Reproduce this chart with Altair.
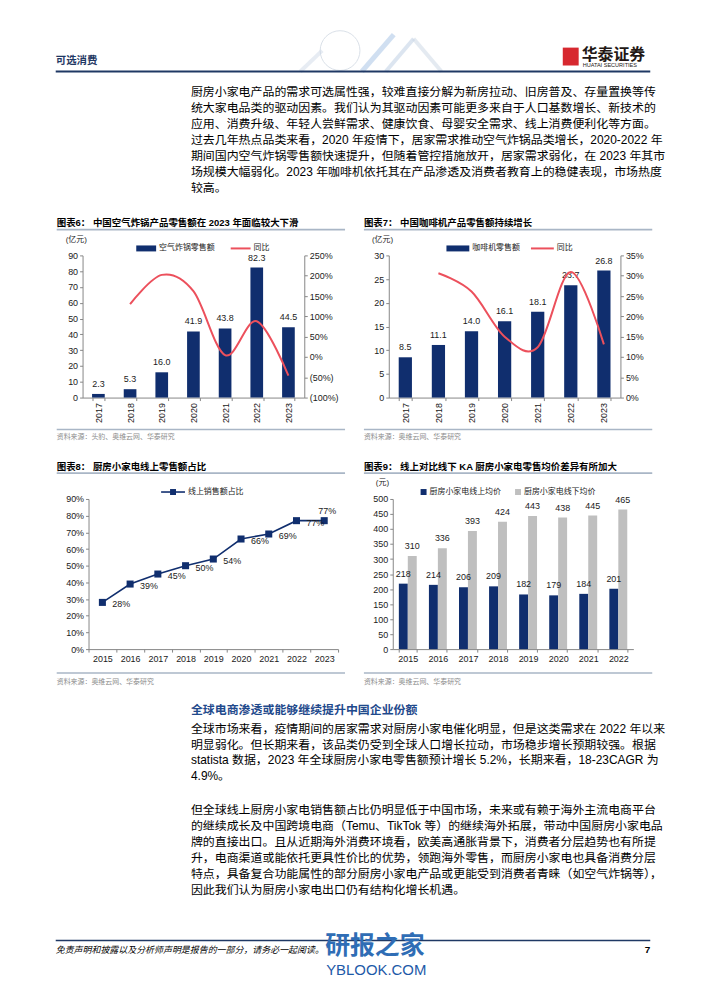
import altair as alt
import pandas as pd

# ---------------- data ----------------
years_af = ["2017", "2018", "2019", "2020", "2021", "2022", "2023"]
airfryer_sales = [2.3, 5.3, 16.0, 41.9, 43.8, 82.3, 44.5]
yoy_years = ["2018", "2019", "2020", "2021", "2022", "2023"]
airfryer_yoy = [130, 202, 162, 4.5, 88, -46]
coffee_sales = [8.5, 11.1, 14.0, 16.1, 18.1, 23.7, 26.8]
coffee_yoy = [30.6, 26.1, 15.0, 12.4, 30.9, 13.1]
years_share = ["2015", "2016", "2017", "2018", "2019", "2020", "2021", "2022", "2023"]
online_share = [28, 39, 45, 50, 54, 66, 69, 77, 77]
years_price = ["2015", "2016", "2017", "2018", "2019", "2020", "2021", "2022"]
online_price = [218, 214, 206, 209, 182, 179, 184, 201]
offline_price = [310, 336, 393, 424, 443, 438, 445, 465]

para1 = [
    "厨房小家电产品的需求可选属性强，较难直接分解为新房拉动、旧房普及、存量置换等传",
    "统大家电品类的驱动因素。我们认为其驱动因素可能更多来自于人口基数增长、新技术的",
    "应用、消费升级、年轻人尝鲜需求、健康饮食、母婴安全需求、线上消费便利化等方面。",
    "过去几年热点品类来看，2020 年疫情下，居家需求推动空气炸锅品类增长，2020-2022 年",
    "期间国内空气炸锅零售额快速提升，但随着管控措施放开，居家需求弱化，在 2023 年其市",
    "场规模大幅弱化。2023 年咖啡机依托其在产品渗透及消费者教育上的稳健表现，市场热度",
    "较高。",
]
heading2 = "全球电商渗透或能够继续提升中国企业份额"
para2a = [
    "全球市场来看，疫情期间的居家需求对厨房小家电催化明显，但是这类需求在 2022 年以来",
    "明显弱化。但长期来看，该品类仍受到全球人口增长拉动，市场稳步增长预期较强。根据",
    "statista 数据，2023 年全球厨房小家电零售额预计增长 5.2%，长期来看，18-23CAGR 为",
    "4.9%。",
]
para2b = [
    "但全球线上厨房小家电销售额占比仍明显低于中国市场，未来或有赖于海外主流电商平台",
    "的继续成长及中国跨境电商（Temu、TikTok 等）的继续海外拓展，带动中国厨房小家电品",
    "牌的直接出口。且从近期海外消费环境看，欧美高通胀背景下，消费者分层趋势也有所提",
    "升，电商渠道或能依托更具性价比的优势，领跑海外零售，而厨房小家电也具备消费分层",
    "特点，具备复合功能属性的部分厨房小家电产品或更能受到消费者青睐（如空气炸锅等），",
    "因此我们认为厨房小家电出口仍有结构化增长机遇。",
]

# ---------------- styles ----------------
FONT = "Liberation Sans, Noto Sans CJK SC, sans-serif"
LATIN = "Liberation Sans, Arial, sans-serif"
NAVY = "#102E6E"
RED = "#EC505C"
GREY = "#BFBFBF"
HEAD = "#1F3864"
AX = "#868686"
LBL = "#1a1a1a"
TITLE_LINE = "#A9B6C6"
SRC = "#8C8C8C"
W, H = 686, 975

ONE = pd.DataFrame({"k": [0]})


def txt(s, x, y, size=9, color="#000", weight="normal", align="left",
        font=FONT, style="normal", baseline="middle"):
    return alt.Chart(ONE).mark_text(
        text=s, fontSize=size, color=color, fontWeight=weight, align=align,
        baseline=baseline, font=font, fontStyle=style
    ).encode(x=alt.value(x), y=alt.value(y))


def hrule(x1, x2, y, color, w=1.0):
    return alt.Chart(ONE).mark_rule(color=color, strokeWidth=w).encode(
        x=alt.value(x1), x2=alt.value(x2), y=alt.value(y))


def seg(x1, y1, x2, y2, color, w=1.0, op=1.0):
    return alt.Chart(ONE).mark_rule(color=color, strokeWidth=w, opacity=op).encode(
        x=alt.value(x1), x2=alt.value(x2), y=alt.value(y1), y2=alt.value(y2))


def box(x1, x2, y1, y2, color):
    return alt.Chart(ONE).mark_rect(color=color).encode(
        x=alt.value(x1), x2=alt.value(x2), y=alt.value(y1), y2=alt.value(y2))


def lines_block(lines, x, y0, dy, size=12, color="#000", weight="normal"):
    df = pd.DataFrame({"t": lines, "i": list(range(len(lines)))})
    return alt.Chart(df).transform_calculate(
        py=f"{y0} + datum.i * {dy}"
    ).mark_text(align="left", baseline="middle", fontSize=size, font=FONT,
                color=color, fontWeight=weight).encode(
        x=alt.value(x), y=alt.Y("py:Q", scale=None, axis=None), text="t:N")


def yaxis(orient, offset, values, expr=None):
    kw = dict(orient=orient, offset=offset, values=values, title=None,
              labelFont=LATIN, labelFontSize=9, labelColor=LBL,
              domainColor=AX, tickColor=AX, tickSize=3, labelPadding=2,
              grid=False, labelOverlap=False)
    if expr:
        kw["labelExpr"] = expr
    return alt.Axis(**kw)


def xaxis(offset, angle):
    return alt.Axis(orient="bottom", offset=offset, labelAngle=angle,
                    tickBand="extent", title=None, labelFont=LATIN,
                    labelFontSize=9, labelColor=LBL, domainColor=AX,
                    tickColor=AX, tickSize=3, labelPadding=2, grid=False,
                    labelOverlap=False)


PCT = "datum.value + '%'"
PCT_PAREN = "datum.value < 0 ? '(' + (-datum.value) + '%)' : datum.value + '%'"

layers = []

# ---------------- header ----------------
layers += [
    alt.Chart(ONE).mark_point(shape="circle", size=1600, filled=False,
                              stroke="#CBD4DF", strokeWidth=1).encode(
        x=alt.value(330), y=alt.value(40)),
    seg(352, 61, 384, 24, "#A9C4E6", 5, 0.55),
    seg(376, 61, 404, 28, "#B9CBE2", 4, 0.5),
    seg(404, 28, 432, 61, "#C9D5E4", 4, 0.5),
    seg(290, 61, 312, 40, "#C9D5E4", 4, 0.45),
    txt("可选消费", 44, 50, size=10.5, color=HEAD, weight="bold"),
    box(554, 570, 37, 55, "#D7282F"),
    txt("华泰证券", 573, 44, size=16, color="#231815", weight="bold"),
    txt("HUATAI SECURITIES", 574, 55, size=5.6, color="#231815", font=LATIN),
    hrule(44, 642, 61, HEAD, 2),
    lines_block(para1, 180, 82, 16, 12),
]

# ---------------- chart 6 : air fryer ----------------
df6 = pd.DataFrame({"year": years_af, "v": airfryer_sales})
dfy6 = pd.DataFrame({"year": yoy_years, "v": airfryer_yoy})
xb6 = alt.Scale(type="band", domain=years_af, range=[71, 294], paddingInner=0.6, paddingOuter=0.3)
xp6 = alt.Scale(type="point", domain=years_af, range=[71, 294], padding=0.5)
y6 = alt.Scale(domain=[0, 90], range=[389, 246], nice=False, zero=True)
y6r = alt.Scale(domain=[-100, 250], range=[389, 246], nice=False, zero=False)

layers += [
    alt.Chart(df6).mark_bar(color=NAVY).encode(
        x=alt.X("year:N", scale=xb6, axis=xaxis(-(H - 389), 270)),
        y=alt.Y("v:Q", scale=y6, axis=yaxis("left", -71, list(range(0, 91, 10))))),
    alt.Chart(df6).mark_text(baseline="bottom", dy=-5, fontSize=9, font=LATIN, color=LBL).encode(
        x=alt.X("year:N", scale=xp6, axis=None),
        y=alt.Y("v:Q", scale=y6, axis=None),
        text=alt.Text("v:Q", format=".1f")),
    alt.Chart(dfy6).mark_line(color=RED, strokeWidth=2, interpolate="cardinal").encode(
        x=alt.X("year:N", scale=xp6, axis=None),
        y=alt.Y("v:Q", scale=y6r,
                axis=yaxis("right", -(W - 294), list(range(-100, 251, 50)), PCT_PAREN))),
    txt("图表6：  中国空气炸锅产品零售额在 2023 年面临较大下滑", 45, 213, size=9.5, weight="bold"),
    hrule(45, 335, 220, TITLE_LINE, 1.8),
    txt("(亿元)", 54, 231, size=8, color=LBL),
    box(125, 145, 236, 242, NAVY),
    txt("空气炸锅零售额", 148, 239, size=8, color=LBL),
    hrule(220, 240, 239, RED, 2),
    txt("同比", 243, 239, size=8, color=LBL),
    hrule(45, 335, 421, TITLE_LINE, 1.5),
    txt("资料来源：头豹、奥维云网、华泰研究", 45, 429, size=7, color=SRC),
]

# ---------------- chart 7 : coffee machine ----------------
df7 = pd.DataFrame({"year": years_af, "v": coffee_sales})
dfy7 = pd.DataFrame({"year": yoy_years, "v": coffee_yoy})
xb7 = alt.Scale(type="band", domain=years_af, range=[379, 612], paddingInner=0.6, paddingOuter=0.3)
xp7 = alt.Scale(type="point", domain=years_af, range=[379, 612], padding=0.5)
y7 = alt.Scale(domain=[0, 30], range=[389, 246], nice=False, zero=True)
y7r = alt.Scale(domain=[0, 35], range=[389, 246], nice=False, zero=False)

layers += [
    alt.Chart(df7).mark_bar(color=NAVY).encode(
        x=alt.X("year:N", scale=xb7, axis=xaxis(-(H - 389), 270)),
        y=alt.Y("v:Q", scale=y7, axis=yaxis("left", -379, list(range(0, 31, 5))))),
    alt.Chart(df7).mark_text(baseline="bottom", dy=-5, fontSize=9, font=LATIN, color=LBL).encode(
        x=alt.X("year:N", scale=xp7, axis=None),
        y=alt.Y("v:Q", scale=y7, axis=None),
        text=alt.Text("v:Q", format=".1f")),
    alt.Chart(dfy7).mark_line(color=RED, strokeWidth=2, interpolate="cardinal").encode(
        x=alt.X("year:N", scale=xp7, axis=None),
        y=alt.Y("v:Q", scale=y7r,
                axis=yaxis("right", -(W - 612), list(range(0, 36, 5)), PCT))),
    txt("图表7：  中国咖啡机产品零售额持续增长", 354, 213, size=9.5, weight="bold"),
    hrule(354, 644, 220, TITLE_LINE, 1.8),
    txt("(亿元)", 362, 231, size=8, color=LBL),
    box(437, 460, 236, 242, NAVY),
    txt("咖啡机零售额", 463, 239, size=8, color=LBL),
    hrule(522, 545, 239, RED, 2),
    txt("同比", 548, 239, size=8, color=LBL),
    hrule(354, 644, 421, TITLE_LINE, 1.5),
    txt("资料来源：奥维云网、华泰研究", 354, 429, size=7, color=SRC),
]

# ---------------- chart 8 : online share ----------------
df8 = pd.DataFrame({"year": years_share, "v": online_share})
xb8 = alt.Scale(type="band", domain=years_share, range=[77, 328], paddingInner=0, paddingOuter=0)
xp8 = alt.Scale(type="point", domain=years_share, range=[77, 328], padding=0.5)
y8 = alt.Scale(domain=[0, 90], range=[642, 491], nice=False, zero=True)

layers += [
    alt.Chart(df8).mark_bar(opacity=0).encode(
        x=alt.X("year:N", scale=xb8, axis=xaxis(-(H - 642), 0)),
        y=alt.Y("v:Q", scale=y8, axis=yaxis("left", -77, list(range(0, 91, 10)), PCT))),
    alt.Chart(df8).mark_line(color=NAVY, strokeWidth=1.6).encode(
        x=alt.X("year:N", scale=xp8, axis=None),
        y=alt.Y("v:Q", scale=y8, axis=None)),
    alt.Chart(df8).mark_point(shape="square", filled=True, size=50, opacity=1, color=NAVY).encode(
        x=alt.X("year:N", scale=xp8, axis=None),
        y=alt.Y("v:Q", scale=y8, axis=None)),
    alt.Chart(df8).transform_filter(alt.datum.year != "2023").transform_calculate(
        lab="datum.v + '%'").mark_text(align="left", baseline="middle", dx=10, dy=2,
                                       fontSize=9, font=LATIN, color=LBL).encode(
        x=alt.X("year:N", scale=xp8, axis=None),
        y=alt.Y("v:Q", scale=y8, axis=None), text="lab:N"),
    alt.Chart(df8).transform_filter(alt.datum.year == "2023").transform_calculate(
        lab="datum.v + '%'").mark_text(align="center", baseline="middle", dx=3, dy=-10,
                                       fontSize=9, font=LATIN, color=LBL).encode(
        x=alt.X("year:N", scale=xp8, axis=None),
        y=alt.Y("v:Q", scale=y8, axis=None), text="lab:N"),
    txt("图表8：  厨房小家电线上零售额占比", 45, 459, size=9.5, weight="bold"),
    hrule(45, 335, 465, TITLE_LINE, 1.8),
    hrule(150, 174, 484, NAVY, 1.6),
    alt.Chart(ONE).mark_point(shape="square", filled=True, size=36, opacity=1, color=NAVY).encode(
        x=alt.value(162), y=alt.value(484)),
    txt("线上销售额占比", 177, 484, size=8, color=LBL),
    hrule(45, 335, 666, TITLE_LINE, 1.5),
    txt("资料来源：奥维云网、华泰研究", 45, 675, size=7, color=SRC),
]

# ---------------- chart 9 : average price ----------------
df9 = pd.DataFrame({"year": years_price, "on": online_price, "off": offline_price})
xb9 = alt.Scale(type="band", domain=years_price, range=[383, 625], paddingInner=0.4, paddingOuter=0.2)
xp9 = alt.Scale(type="point", domain=years_price, range=[383, 625], padding=0.5)
y9 = alt.Scale(domain=[0, 500], range=[642, 491], nice=False, zero=True)

layers += [
    alt.Chart(df9).mark_bar(color=NAVY, width=9, xOffset=-4.5).encode(
        x=alt.X("year:N", scale=xb9, axis=xaxis(-(H - 642), 0)),
        y=alt.Y("on:Q", scale=y9, axis=yaxis("left", -383, list(range(0, 501, 50))))),
    alt.Chart(df9).mark_bar(color=GREY, width=9, xOffset=4.5).encode(
        x=alt.X("year:N", scale=xb9, axis=None),
        y=alt.Y("off:Q", scale=y9, axis=None)),
    alt.Chart(df9).mark_text(baseline="bottom", dy=-5, dx=-4.5, fontSize=9, font=LATIN, color=LBL).encode(
        x=alt.X("year:N", scale=xp9, axis=None),
        y=alt.Y("on:Q", scale=y9, axis=None), text="on:Q"),
    alt.Chart(df9).mark_text(baseline="bottom", dy=-5, dx=4.5, fontSize=9, font=LATIN, color=LBL).encode(
        x=alt.X("year:N", scale=xp9, axis=None),
        y=alt.Y("off:Q", scale=y9, axis=None), text="off:Q"),
    txt("图表9：  线上对比线下 KA 厨房小家电零售均价差异有所加大", 354, 459, size=9.5, weight="bold"),
    hrule(354, 644, 465, TITLE_LINE, 1.8),
    txt("(元)", 366, 475, size=8, color=LBL),
    box(411, 417, 481, 487, NAVY),
    txt("厨房小家电线上均价", 420, 484, size=8, color=LBL),
    box(506, 512, 481, 487, GREY),
    txt("厨房小家电线下均价", 515, 484, size=8, color=LBL),
    hrule(354, 644, 666, TITLE_LINE, 1.5),
    txt("资料来源：奥维云网、华泰研究", 354, 675, size=7, color=SRC),
]

# ---------------- bottom text + footer ----------------
layers += [
    txt(heading2, 180, 703, size=12, color="#1F4A8C", weight="bold"),
    lines_block(para2a, 180, 722, 16, 12),
    lines_block(para2b, 180, 804, 16, 12),
    hrule(44, 642, 935, HEAD, 1.5),
    txt("免责声明和披露以及分析师声明是报告的一部分，请务必一起阅读。", 44, 945, size=9, style="italic"),
    txt("7", 642, 945, size=10, weight="bold", align="right", font=LATIN),
    txt("研报之家", 315, 941, size=25, color="#2F6DB5", weight="bold"),
    txt("YBLOOK.COM", 316, 965, size=15, color="#1E5AA8", font=LATIN),
]

chart = alt.layer(*layers).resolve_scale(
    x="independent", y="independent"
).resolve_axis(
    x="independent", y="independent"
).properties(
    width=W, height=H, padding=0, background="white"
).configure_view(strokeWidth=0)

chart.save("out.html", embed_options={"renderer": "svg", "actions": False})
